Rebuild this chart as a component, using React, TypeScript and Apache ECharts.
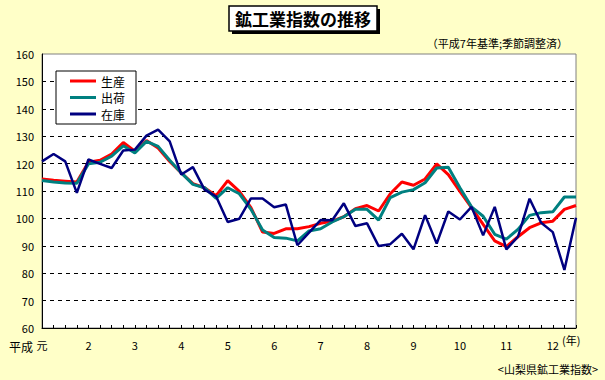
import React, { useEffect, useRef } from "react";
import * as echarts from "echarts";

const yearLabels = ["元", "2", "3", "4", "5", "6", "7", "8", "9", "10", "11", "12"];
const quarters = ["1-3月", "4-6月", "7-9月", "10-12月"];
const categories: string[] = [];
yearLabels.forEach((y) => quarters.forEach((q) => categories.push(`${y}年${q}`)));
const cats = categories.slice(0, 47);

const production = [
  114.4, 113.9, 113.6, 113.3, 120.5, 121.2, 123.5, 127.7, 124.5, 128.4, 125.7, 120.8,
  116.6, 112.7, 111.2, 108.3, 113.8, 109.9, 103.9, 95.0, 94.5, 96.2, 96.2, 97.0,
  98.2, 99.0, 100.6, 103.5, 104.7, 102.7, 109.0, 113.3, 112.1, 114.4, 119.9, 116.0,
  109.9, 103.9, 97.8, 91.8, 89.7, 93.3, 96.6, 98.4, 99.0, 103.3, 104.7,
];
const shipments = [
  113.8, 113.3, 112.9, 112.8, 119.9, 120.5, 122.7, 126.5, 123.9, 128.1, 126.3, 121.2,
  116.6, 112.4, 111.2, 107.3, 111.2, 109.0, 103.3, 95.8, 93.0, 92.8, 91.8, 95.4,
  96.2, 98.7, 100.6, 103.3, 103.3, 99.4, 107.6, 109.6, 110.5, 113.0, 118.4, 118.7,
  111.2, 104.2, 100.8, 94.2, 92.4, 96.0, 101.1, 102.1, 102.4, 107.8, 107.8,
];
const inventory = [
  120.8, 123.5, 120.8, 109.3, 121.5, 119.9, 118.4, 124.8, 125.1, 130.2, 132.4, 128.1,
  116.0, 118.7, 110.5, 108.0, 98.7, 99.9, 107.3, 107.3, 104.1, 105.1, 90.2, 94.8,
  99.4, 99.3, 105.5, 97.2, 98.2, 89.9, 90.6, 94.4, 88.7, 101.2, 90.8, 102.5,
  99.6, 104.2, 93.8, 104.2, 88.7, 93.3, 107.2, 98.4, 95.0, 81.2, 100.2,
];
const seriesNames = ["生産", "出荷", "在庫"];
const seriesColors = ["#ff0000", "#008080", "#000080"];

const FONT = "'Noto Sans CJK JP', 'Noto Sans', sans-serif";

export default function App() {
  const ref = useRef<HTMLDivElement>(null);
  useEffect(() => {
    if (!ref.current) return;
    const chart = echarts.init(ref.current, undefined, { renderer: "svg" });
    const splitColors = Array.from({ length: 11 }, (_, i) => (i === 10 ? "rgba(0,0,0,0)" : "#000"));
    chart.setOption({
      animation: false,
      backgroundColor: "#ffffc8",
      textStyle: { fontFamily: FONT },
      grid: {
        left: 42,
        right: 29,
        top: 54,
        bottom: 52,
        show: true,
        backgroundColor: "#ffffff",
        borderColor: "#808080",
        borderWidth: 1,
      },
      legend: {
        orient: "vertical",
        left: 56,
        top: 71,
        backgroundColor: "#ffffff",
        borderColor: "#000",
        borderWidth: 1,
        borderRadius: 0,
        padding: [4, 11, 4, 14],
        itemGap: 4.5,
        itemWidth: 26,
        itemHeight: 3,
        icon: "rect",
        textStyle: { fontSize: 12, lineHeight: 12, color: "#000", fontFamily: FONT },
        data: seriesNames,
      },
      xAxis: {
        type: "category",
        boundaryGap: false,
        data: cats,
        axisLine: { lineStyle: { color: "#000", width: 1 } },
        axisTick: { show: true, inside: true, length: 3, interval: 0, lineStyle: { color: "#000" } },
        axisLabel: {
          interval: (index: number) => index % 4 === 0,
          formatter: (_v: string, index: number) => yearLabels[Math.floor(index / 4)],
          color: "#000",
          fontSize: 11,
          margin: 11,
          fontFamily: FONT,
        },
        splitLine: { show: false },
      },
      yAxis: {
        type: "value",
        min: 60,
        max: 160,
        interval: 10,
        axisLine: { show: true, lineStyle: { color: "#000", width: 1 } },
        axisTick: { show: false },
        axisLabel: { color: "#000", fontSize: 11, margin: 8, fontFamily: FONT },
        splitLine: { show: true, lineStyle: { color: splitColors, type: [4, 4], width: 1 } },
      },
      series: [
        { name: seriesNames[0], type: "line", data: production, showSymbol: false, color: seriesColors[0], lineStyle: { width: 3, color: seriesColors[0] } },
        { name: seriesNames[1], type: "line", data: shipments, showSymbol: false, color: seriesColors[1], lineStyle: { width: 3, color: seriesColors[1] } },
        { name: seriesNames[2], type: "line", data: inventory, showSymbol: false, color: seriesColors[2], lineStyle: { width: 2.5, color: seriesColors[2] } },
      ],
      graphic: [
        { type: "rect", shape: { x: 232, y: 9, width: 148, height: 25 }, style: { fill: "#000" } },
        { type: "rect", shape: { x: 229, y: 6, width: 148, height: 25 }, style: { fill: "#fff", stroke: "#000", lineWidth: 1.5 } },
        {
          type: "text",
          x: 303,
          y: 18.5,
          style: { text: "鉱工業指数の推移", fontSize: 17, fontWeight: "bold", fill: "#000", align: "center", verticalAlign: "middle", fontFamily: FONT },
        },
        {
          type: "text",
          x: 568,
          y: 43,
          style: { text: "（平成7年基準;季節調整済）", fontSize: 11, fill: "#000", align: "right", verticalAlign: "middle", fontFamily: FONT },
        },
        {
          type: "text",
          x: 9,
          y: 346,
          style: { text: "平成", fontSize: 12, fill: "#000", align: "left", verticalAlign: "middle", fontFamily: FONT },
        },
        {
          type: "text",
          x: 562,
          y: 340,
          style: { text: "(年)", fontSize: 11, fill: "#000", align: "left", verticalAlign: "middle", fontFamily: FONT },
        },
        {
          type: "text",
          x: 598,
          y: 369,
          style: { text: "<山梨県鉱工業指数>", fontSize: 11, fill: "#000", align: "right", verticalAlign: "middle", fontFamily: FONT },
        },
      ],
    });
    return () => chart.dispose();
  }, []);
  return <div ref={ref} style={{ position: "absolute", left: 0, top: 0, width: 605, height: 380 }} />;
}
